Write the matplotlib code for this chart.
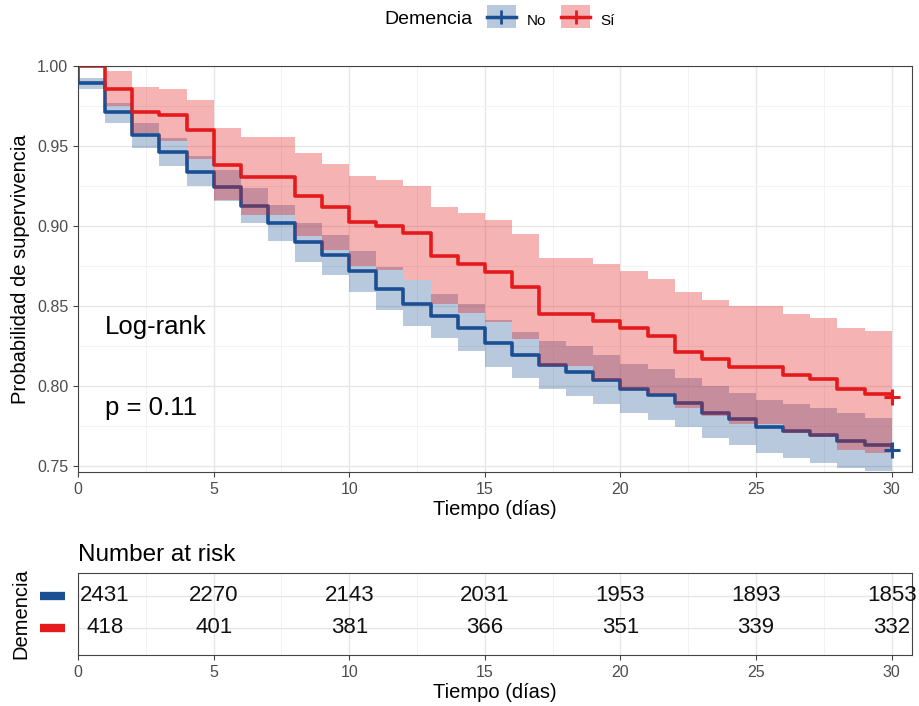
import matplotlib
matplotlib.use("Agg")
from matplotlib import pyplot as plt
from matplotlib.patches import Patch, Rectangle
from matplotlib.lines import Line2D
from matplotlib.legend_handler import HandlerPatch
from matplotlib.transforms import blended_transform_factory
import numpy as np

plt.rcParams['font.family'] = ['Liberation Sans', 'DejaVu Sans']

# Kaplan-Meier estimates per day (value holds on [t, t+1))
dias = np.arange(0, 31)

surv_no = [0.9895, 0.971, 0.9566, 0.946, 0.934, 0.9245, 0.9124, 0.9016, 0.890, 0.8822,
           0.8718, 0.8607, 0.8516, 0.8436, 0.8364, 0.827, 0.8197, 0.813, 0.8086, 0.804,
           0.798, 0.7947, 0.7895, 0.7833, 0.7795, 0.7745, 0.772, 0.7697, 0.7655, 0.763, 0.760]
sup_no = [0.9926, 0.977, 0.9645, 0.955, 0.9436, 0.935, 0.924, 0.9134, 0.902, 0.8947,
          0.8843, 0.8745, 0.866, 0.8578, 0.851, 0.841, 0.834, 0.828, 0.8249, 0.8197,
          0.814, 0.8107, 0.805, 0.800, 0.7957, 0.791, 0.789, 0.7865, 0.7833, 0.780, 0.777]
inf_no = [0.9857, 0.9645, 0.949, 0.9378, 0.925, 0.9155, 0.902, 0.8905, 0.8774, 0.8697,
          0.8586, 0.8474, 0.8378, 0.830, 0.8218, 0.812, 0.805, 0.798, 0.794, 0.789,
          0.783, 0.779, 0.7742, 0.7676, 0.7634, 0.7583, 0.755, 0.752, 0.749, 0.7467, 0.744]

surv_si = [1.0, 0.9857, 0.9714, 0.9693, 0.960, 0.938, 0.9307, 0.9307, 0.919, 0.912,
           0.9026, 0.900, 0.8957, 0.881, 0.876, 0.871, 0.862, 0.8453, 0.8453, 0.8405,
           0.836, 0.831, 0.821, 0.817, 0.812, 0.812, 0.8068, 0.8047, 0.798, 0.795, 0.793]
sup_si = [1.0, 0.9968, 0.987, 0.9857, 0.9786, 0.961, 0.9555, 0.9555, 0.9457, 0.939,
          0.931, 0.9286, 0.925, 0.912, 0.908, 0.9036, 0.8953, 0.880, 0.880, 0.876,
          0.8718, 0.867, 0.8586, 0.854, 0.850, 0.850, 0.8453, 0.8426, 0.836, 0.8343, 0.833]
inf_si = [1.0, 0.975, 0.958, 0.953, 0.9416, 0.916, 0.907, 0.907, 0.894, 0.8853,
          0.875, 0.8724, 0.866, 0.851, 0.8457, 0.840, 0.8295, 0.8127, 0.8127, 0.804,
          0.798, 0.795, 0.786, 0.781, 0.776, 0.776, 0.771, 0.768, 0.760, 0.758, 0.756]

# Number at risk table
tiempos_riesgo = [0, 5, 10, 15, 20, 25, 30]
riesgo_no = [2431, 2270, 2143, 2031, 1953, 1893, 1853]
riesgo_si = [418, 401, 381, 366, 351, 339, 332]

azul = '#1B4F93'
rojo = '#E41A1C'
gris_txt = '#4D4D4D'
grid_major = '#E6E6E6'
grid_minor = '#F2F2F2'

fig = plt.figure(figsize=(9.19, 7.06), dpi=100)
ax = fig.add_axes([0.0849, 0.3314, 0.9075, 0.5751])
axr = fig.add_axes([0.0849, 0.0722, 0.9075, 0.1161])

xmax = 30.75


def estilo(a):
    a.set_xlim(0, xmax)
    a.set_xticks(np.arange(0, 31, 5))
    a.set_xticks(np.arange(2.5, 31, 5), minor=True)
    a.grid(True, which='major', color=grid_major, lw=1.0, zorder=0)
    a.grid(True, which='minor', color=grid_minor, lw=0.7, zorder=0)
    a.set_axisbelow(True)
    for s in a.spines.values():
        s.set_color('#444444')
        s.set_linewidth(0.8)
    a.tick_params(which='major', length=3.5, color='#444444', labelcolor=gris_txt, labelsize=11.5)
    a.tick_params(which='minor', length=0)


# key box centred on the legend line
def caja_centrada(legend, orig_handle, xdescent, ydescent, width, height, fontsize):
    y0 = (height - ydescent) / 2 - height / 2
    return Rectangle((-xdescent, y0), width, height)


# survival curves
estilo(ax)
ax.set_ylim(0.7463, 1.0)
ax.set_yticks(np.arange(0.75, 1.001, 0.05))
ax.set_yticks(np.arange(0.775, 1.0, 0.05), minor=True)
ax.yaxis.set_major_formatter(plt.FormatStrFormatter('%.2f'))

for surv, col in [(surv_no, azul), (surv_si, rojo)]:
    xs = np.concatenate([[0], dias])
    ys = np.concatenate([[1.0], surv])
    ax.plot(xs, ys, drawstyle='steps-post', color=col, lw=2.6, zorder=2)
for sup, inf, col, al in [(sup_no, inf_no, azul, 0.31), (sup_si, inf_si, rojo, 0.33)]:
    ax.fill_between(dias, inf, sup, step='post', color=col, alpha=al, lw=0, zorder=3)
for surv, col in [(surv_no, azul), (surv_si, rojo)]:
    ax.plot(dias[-1], surv[-1], marker='+', ms=11, mew=2.2, color=col, zorder=4, clip_on=False)

ax.set_xlabel('Tiempo (días)', fontsize=14.5, labelpad=2)
ax.set_ylabel('Probabilidad de supervivencia', fontsize=14.5, labelpad=5)
ax.text(1.0, 0.837, 'Log-rank', fontsize=18.5, ha='left', va='center')
ax.text(1.0, 0.7866, 'p = 0.11', fontsize=18.5, ha='left', va='center')

# legend above the plot
fig.text(473 / 919, 1 - 20 / 706, 'Demencia', fontsize=14, ha='right', va='center')
handles = [(Patch(facecolor=col, alpha=al, edgecolor='none'),
            Line2D([], [], color=col, lw=2.5, marker='+', ms=10, mew=2))
           for col, al in [(azul, 0.31), (rojo, 0.33)]]
fig.legend(handles, ['No', 'Sí'], loc='center left', bbox_to_anchor=(476 / 919, 1 - 20 / 706),
           ncol=2, frameon=False, fontsize=11, handlelength=1.9, handleheight=1.9,
           handletextpad=0.7, columnspacing=1.0, borderpad=0.2,
           handler_map={Patch: HandlerPatch(patch_func=caja_centrada)})

# risk table
estilo(axr)
axr.set_ylim(0.15, 2.7)
axr.set_yticks([1, 2])
axr.set_yticklabels(['', ''])
axr.tick_params(axis='y', length=0)
axr.yaxis.grid(True, color=grid_major, lw=1.0)
for fila, valores in [(2, riesgo_no), (1, riesgo_si)]:
    for i, (t, n) in enumerate(zip(tiempos_riesgo, valores)):
        dx = 19.5 if i == 0 else 0
        axr.annotate(str(n), (t, fila), xytext=(dx, 0), textcoords='offset points',
                     ha='center', va='center', fontsize=16, color='#111111', annotation_clip=False)
trans = blended_transform_factory(axr.transAxes, axr.transData)
for fila, col in [(2, azul), (1, rojo)]:
    axr.plot([-0.0456, -0.0156], [fila, fila], transform=trans, color=col, lw=6,
             solid_capstyle='butt', clip_on=False)
axr.set_title('Number at risk', loc='left', fontsize=17.5, pad=9)
axr.set_xlabel('Tiempo (días)', fontsize=14.5, labelpad=2)
axr.set_ylabel('Demencia', fontsize=14.5)
axr.yaxis.set_label_coords(-0.057, 0.5)

fig.savefig('out.png', dpi=100)
